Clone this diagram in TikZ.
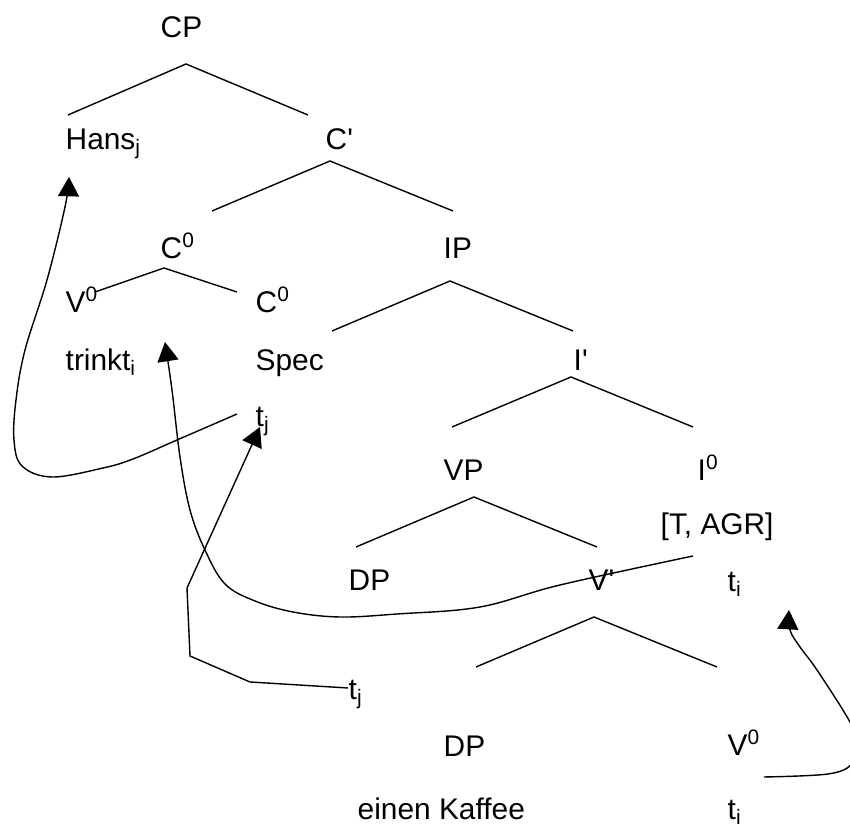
\documentclass[tikz,border=0pt]{standalone}
\usepackage{fontspec}
\setmainfont{Liberation Sans}
\usetikzlibrary{arrows.meta}

\begin{document}
\begin{tikzpicture}[x=0.02cm,y=-0.02cm,line width=0.8pt,
                font=\fontsize{17}{20}\selectfont,
                every node/.style={anchor=base west,inner sep=0pt},
                mv/.style={-{Triangle[length=11pt,width=12pt]}}]
                \useasboundingbox (0,0) rectangle (850,830);

                \node (cp) at (160,38) {CP};
                \node (hans) at (65,150) {Hans\textsubscript{j}};
                \node (cbar) at (325,150) {C\textquotesingle};
                \node (c0) at (160,259) {C\textsuperscript{0}};
                \node (ip) at (443,259) {IP};
                \node (v0) at (65,313) {V\textsuperscript{0}};
                \node (c0b) at (255,313) {C\textsuperscript{0}};
                \node (trinkt) at (65,371) {trinkt\textsubscript{i}};
                \node (spec) at (255,371) {Spec};
                \node (ibar) at (573,371) {I\textquotesingle};
                \node (tj) at (255,427) {t\textsubscript{j}};
                \node (vp) at (443,481) {VP};
                \node (i0) at (697,481) {I\textsuperscript{0}};
                \node (agr) at (660,535) {[T, AGR]};
                \node (dp) at (348,591) {DP};
                \node (vbar) at (588,591) {V\textquotesingle};
                \node (ti) at (727,592) {t\textsubscript{i}};
                \node (tjb) at (348,700) {t\textsubscript{j}};
                \node (dpb) at (443,757) {DP};
                \node (v0b) at (727,756) {V\textsuperscript{0}};
                \node (kaffee) at (357,820) {einen Kaffee};
                \node (tib) at (727,820) {t\textsubscript{i}};

                \foreach \n/\ax/\ay/\lx/\rx/\ly in {cp/186/64/68/308/115, cbar/330/161/212/453/211,
                    c0/164/268/95/237/292, ip/450/281/332/573/331, ibar/571/377/452/693/427,
                    vp/474/497/356/597/547, vbar/594/617/476/717/667}{
                    \coordinate (\n-t) at (\ax,\ay);
                    \coordinate (\n-l) at (\lx,\ly);
                    \coordinate (\n-r) at (\rx,\ly);
                    \draw (\n-l) -- (\n-t) -- (\n-r);
                }

                \coordinate (tj-out) at (237,414);
                \coordinate (hans-in) at (69,177);
                \draw[mv] plot[smooth,tension=0.6] coordinates {(tj-out) (177,440) (133,459) (103,468)
                    (52,477) (22,466) (14,440) (16,400) (25,350) (47,280) (65,207) (hans-in)};

                \coordinate (agr-out) at (693,556);
                \coordinate (trinkt-in) at (165,342);
                \draw[mv] plot[smooth,tension=0.6] coordinates {(agr-out) (560,585) (480,607) (397,614)
                    (340,617) (293,612) (255,601) (225,584) (205,550) (190,510) (180,457) (172,390) (trinkt-in)};

                \coordinate (tjb-out) at (348,688);
                \coordinate (tj-in) at (260,427);
                \draw[mv] (tjb-out) -- (250,682) -- (190,656) -- (187,588) -- (tj-in);

                \coordinate (v0b-out) at (764,777);
                \coordinate (ti-in) at (789,610);
                \draw[mv] plot[smooth,tension=0.6] coordinates {(v0b-out) (828,774) (852,764) (858,745)
                    (850,722) (817,670) (800,647) (790,630) (ti-in)};
            \end{tikzpicture}
\end{document}
